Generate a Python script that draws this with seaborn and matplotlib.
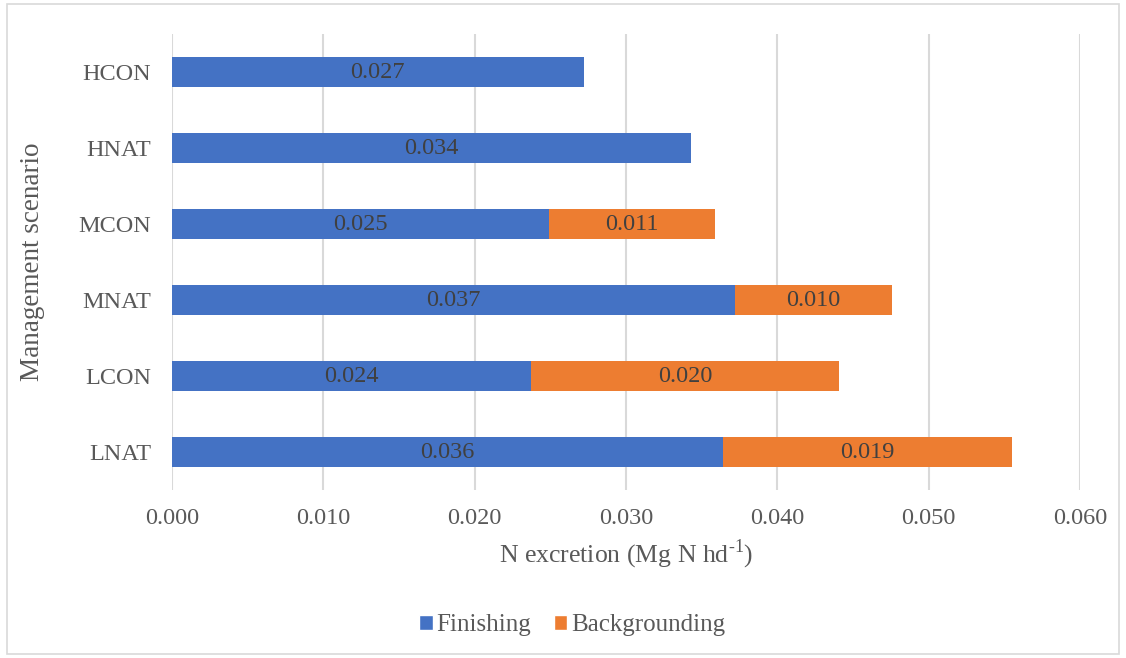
import matplotlib
matplotlib.use("Agg")
import matplotlib.pyplot as plt
from matplotlib.patches import Rectangle, Patch
import seaborn as sns
import pandas as pd

# Management scenarios, top to bottom
scenarios = ["HCON", "HNAT", "MCON", "MNAT", "LCON", "LNAT"]
# N excretion per head (Mg N hd-1) by production phase
finishing = [0.0272, 0.0343, 0.0249, 0.0372, 0.0237, 0.0364]
backgrounding = [0.0, 0.0, 0.0110, 0.0104, 0.0204, 0.0191]
x_ticks = [0.000, 0.010, 0.020, 0.030, 0.040, 0.050, 0.060]

sns.set_theme(style="white")
plt.rcParams["font.family"] = ["Liberation Serif", "DejaVu Serif"]
plt.rcParams["mathtext.fontset"] = "custom"
plt.rcParams["mathtext.rm"] = "Liberation Serif"

blue = "#4472C4"
orange = "#ED7D31"
text_col = "#595959"
label_col = "#404040"

df = pd.DataFrame({
    "scenario": scenarios,
    "finishing": finishing,
    "backgrounding": backgrounding,
})
df["total"] = df["finishing"] + df["backgrounding"]

fig = plt.figure(figsize=(11.26, 6.58), dpi=100)
ax = fig.add_axes([0.1528, 0.2553, 0.959 - 0.1528, 0.948 - 0.2553])

# Stacked bars: full totals in orange, finishing portion in blue over them
sns.barplot(data=df.assign(total=df["total"].where(df["backgrounding"] > 0, 0)),
            y="scenario", x="total", order=scenarios, color=orange,
            width=0.4, linewidth=0, saturation=1, ax=ax, orient="h")
sns.barplot(data=df, y="scenario", x="finishing", order=scenarios, color=blue,
            width=0.4, linewidth=0, saturation=1, ax=ax, orient="h")

# Segment value labels
for i, row in df.iterrows():
    ax.text(row["finishing"] / 2, i, f"{row['finishing']:.3f}", ha="center",
            va="center", fontsize=17.5, color=label_col)
    if row["backgrounding"] > 0:
        ax.text(row["finishing"] + row["backgrounding"] / 2, i,
                f"{row['backgrounding']:.3f}", ha="center", va="center",
                fontsize=17.5, color=label_col)

ax.set_xlim(0, 0.060)
ax.set_ylim(5.5, -0.5)
ax.set_xticks(x_ticks)
ax.set_xticklabels([f"{v:.3f}" for v in x_ticks])
ax.xaxis.grid(True, color="#d9d9d9", linewidth=1.5)
ax.yaxis.grid(False)
ax.set_axisbelow(True)
for s in ax.spines.values():
    s.set_visible(False)
ax.tick_params(axis="both", length=0, labelsize=17.5, colors=text_col)
ax.tick_params(axis="x", pad=13)
ax.tick_params(axis="y", pad=15)

ax.set_xlabel("N excretion (Mg N hd$^{\\mathregular{\u20101}}$)", fontsize=18.5,
              color=text_col, labelpad=6)
ax.set_ylabel("Management scenario", fontsize=19.5, color=text_col, labelpad=24)

handles = [Patch(facecolor=blue, label="Finishing"),
           Patch(facecolor=orange, label="Backgrounding")]
fig.legend(handles=handles, loc="center", bbox_to_anchor=(0.508, 1 - 625 / 658),
           ncol=2, frameon=False, fontsize=18, labelcolor=text_col,
           handlelength=0.55, handleheight=0.55, handletextpad=0.15,
           columnspacing=0.9)

# Light chart-area border
fig.patches.append(Rectangle((7 / 1126, 4 / 658), 1112 / 1126, 650 / 658,
                             transform=fig.transFigure, fill=False,
                             edgecolor="#d9d9d9", linewidth=1.2))

fig.savefig("out.png", dpi=100)
